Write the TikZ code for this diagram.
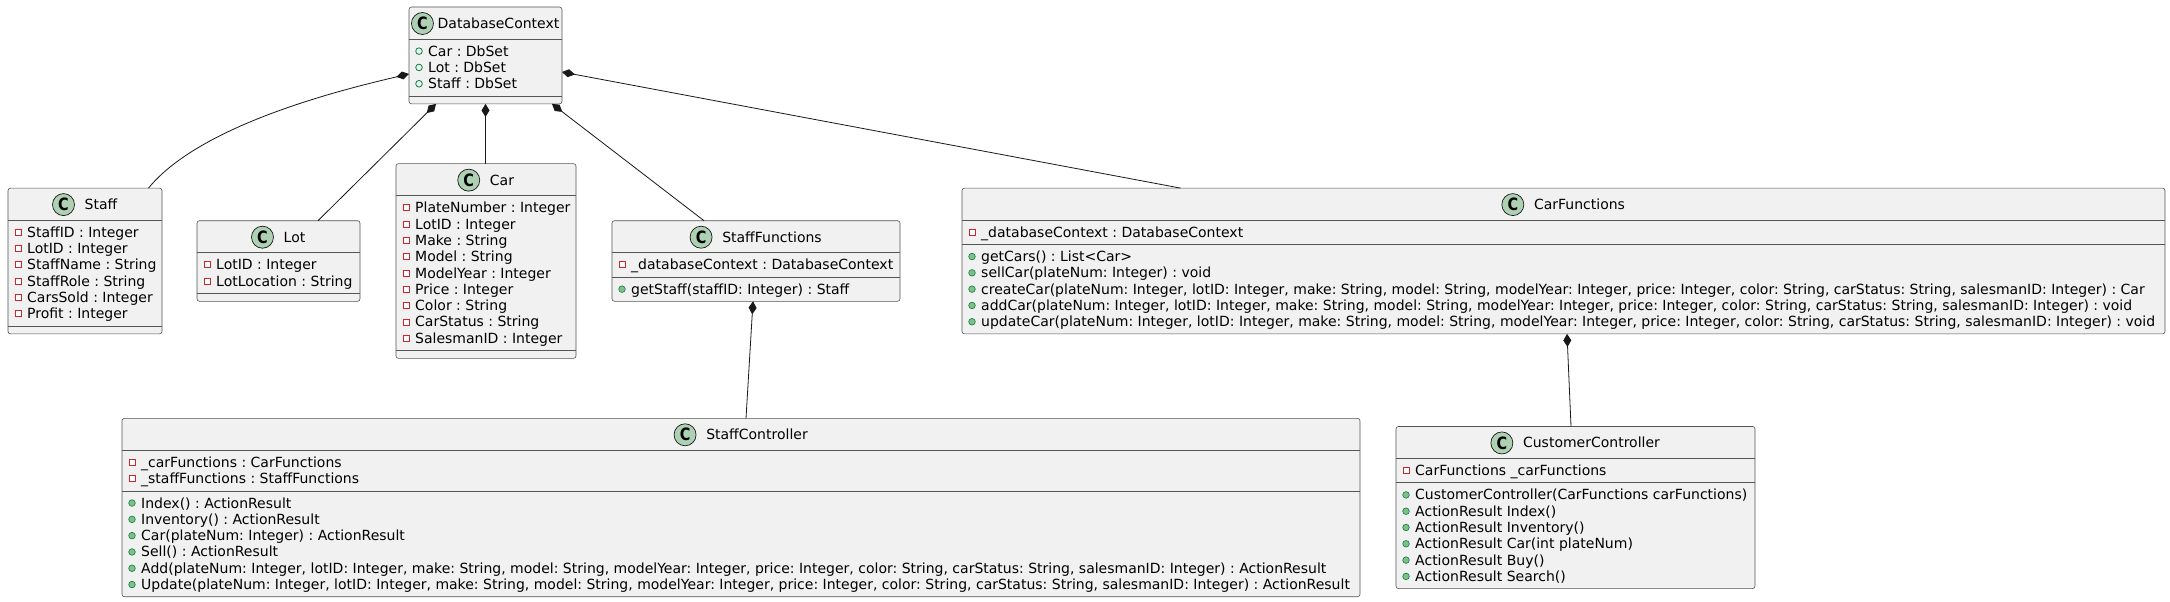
\documentclass[tikz,border=0pt]{standalone}
\usepackage{fontspec}
\setmainfont{DejaVu Sans}
\usepackage{graphicx}
\usetikzlibrary{arrows.meta,calc}
\frenchspacing
\definecolor{boxfill}{HTML}{F1F1F1}
\definecolor{umlline}{HTML}{181818}
\definecolor{boxline}{HTML}{555555}
\definecolor{spotfill}{HTML}{ADD1B2}
\definecolor{umlred}{HTML}{C82930}
\definecolor{umlgreenD}{HTML}{038048}
\definecolor{umlgreen}{HTML}{84BE84}
\tikzset{
  umlbox/.style={draw=boxline, fill=boxfill, line width=0.6pt, rounded corners=2.5pt, anchor=north west, inner sep=0pt, outer sep=0pt},
  sepline/.style={draw=boxline, line width=0.6pt},
  hdr/.style={font=\fontsize{14}{16.3}\selectfont\frenchspacing, inner sep=0pt, anchor=base, text=black},
  rowtxt/.style={font=\fontsize{14}{16.3}\selectfont\frenchspacing, inner sep=0pt, anchor=base west, text=black},
  spot/.style={draw=umlline, fill=spotfill, line width=0.7pt},
  spotletter/.style={font=\fontsize{17}{17}\selectfont\bfseries, inner sep=0pt, text=black},
  comp/.style={draw=umlline, line width=0.8pt, arrows={Diamond[length=13pt,width=8pt]-}},
  privfield/.pic={\draw[umlred, line width=0.8pt, fill=white] (-3,-3) rectangle (3,3);},
  pubmeth/.pic={\draw[draw=umlgreenD, fill=umlgreen, line width=0.6pt] (0,0) circle[radius=3.3pt];},
  pubfield/.pic={\draw[draw=umlgreenD, line width=0.8pt] (0,0) circle[radius=3.3pt];},
}
\newcommand\umlspot[1]{%
  \draw[spot] ([xshift=11pt,yshift=5pt]#1.base west) circle[radius=11pt];
  \node[spotletter] (#1C) at ([xshift=11pt,yshift=5pt]#1.base west) {\scalebox{0.85}[1]{C}};}
\newcommand\umlrows[5]{%
  \foreach \t [count=\i from 0] in {#5}{%
    \node[rowtxt] (#1\i) at (#2+19, #3+17.15+16.3*\i) {\t};
    \pic at (#2+10, #3+12.15+16.3*\i) {#4};
  }}
\newcommand\umlseps[3]{% box, hsep offset, asep offset (from top)
  \draw[sepline] ($(#1.north west)+(0,#2)$) -- ($(#1.north east)+(0,#2)$);
  \draw[sepline] ($(#1.north west)+(0,#3)$) -- ($(#1.north east)+(0,#3)$);}
\begin{document}
\begin{tikzpicture}[x=1pt,y=-1pt]
\useasboundingbox (0,0) rectangle (2170,602);
\fill[white] (0,0) rectangle (2170,602);

% boxes
\node[umlbox, minimum width=153pt, minimum height=96.9pt] (db) at (409,7) {};
\node[umlbox, minimum width=154pt, minimum height=145.8pt] (staff) at (8,188.1) {};
\node[umlbox, minimum width=163pt, minimum height=80.6pt] (lot) at (197,220.7) {};
\node[umlbox, minimum width=180pt, minimum height=194.7pt] (car) at (396,163.65) {};
\node[umlbox, minimum width=288pt, minimum height=80.6pt] (sf) at (612,220.7) {};
\node[umlbox, minimum width=1203pt, minimum height=145.8pt] (cf) at (962,188.1) {};
\node[umlbox, minimum width=1238pt, minimum height=178.4pt] (sc) at (122,418.3) {};
\node[umlbox, minimum width=359pt, minimum height=162.1pt] (cc) at (1396,426.45) {};

% separators
\umlseps{db}{32}{88.9}
\umlseps{staff}{32}{137.8}
\umlseps{lot}{32}{72.6}
\umlseps{car}{32}{186.7}
\umlseps{sf}{32}{56.3}
\umlseps{cf}{32}{56.3}
\umlseps{sc}{32}{72.6}
\umlseps{cc}{32}{56.3}

% headers
\node[hdr] (dbT) at (485.5,28.5) {\kern26pt DatabaseContext}; \umlspot{dbT}
\node[hdr] (staffT) at (85,209.6) {\kern32pt Staff}; \umlspot{staffT}
\node[hdr] (lotT) at (278.5,242.2) {\kern32pt Lot}; \umlspot{lotT}
\node[hdr] (carT) at (486,185.15) {\kern32pt Car}; \umlspot{carT}
\node[hdr] (sfT) at (756,242.2) {\kern32pt StaffFunctions}; \umlspot{sfT}
\node[hdr] (cfT) at (1563.5,209.6) {\kern32pt CarFunctions}; \umlspot{cfT}
\node[hdr] (scT) at (741,439.8) {\kern32pt StaffController}; \umlspot{scT}
\node[hdr] (ccT) at (1575.5,447.95) {\kern32pt CustomerController}; \umlspot{ccT}

% rows
\umlrows{dba}{409}{39}{pubfield}{{Car : DbSet},{Lot : DbSet},{Staff : DbSet}}
\umlrows{staffa}{8}{220.1}{privfield}{{StaffID : Integer},{LotID : Integer},{StaffName : String},{StaffRole : String},{CarsSold : Integer},{Profit : Integer}}
\umlrows{lota}{197}{252.7}{privfield}{{LotID : Integer},{LotLocation : String}}
\umlrows{cara}{396}{195.65}{privfield}{{PlateNumber : Integer},{LotID : Integer},{Make : String},{Model : String},{ModelYear : Integer},{Price : Integer},{Color : String},{CarStatus : String},{SalesmanID : Integer}}
\umlrows{sfa}{612}{252.7}{privfield}{{\_databaseContext : DatabaseContext}}
\umlrows{sfm}{612}{277}{pubmeth}{{getStaff(staffID: Integer) : Staff}}
\umlrows{cfa}{962}{220.1}{privfield}{{\_databaseContext : DatabaseContext}}
\umlrows{cfm}{962}{244.4}{pubmeth}{{getCars() : List<Car>},{sellCar(plateNum: Integer) : void},{createCar(plateNum: Integer, lotID: Integer, make: String, model: String, modelYear: Integer, price: Integer, color: String, carStatus: String, salesmanID: Integer) : Car},{addCar(plateNum: Integer, lotID: Integer, make: String, model: String, modelYear: Integer, price: Integer, color: String, carStatus: String, salesmanID: Integer) : void},{updateCar(plateNum: Integer, lotID: Integer, make: String, model: String, modelYear: Integer, price: Integer, color: String, carStatus: String, salesmanID: Integer) : void}}
\umlrows{sca}{122}{450.3}{privfield}{{\_carFunctions : CarFunctions},{\_staffFunctions : StaffFunctions}}
\umlrows{scm}{122}{490.9}{pubmeth}{{Index() : ActionResult},{Inventory() : ActionResult},{Car(plateNum: Integer) : ActionResult},{Sell() : ActionResult},{Add(plateNum: Integer, lotID: Integer, make: String, model: String, modelYear: Integer, price: Integer, color: String, carStatus: String, salesmanID: Integer) : ActionResult},{Update(plateNum: Integer, lotID: Integer, make: String, model: String, modelYear: Integer, price: Integer, color: String, carStatus: String, salesmanID: Integer) : ActionResult}}
\umlrows{cca}{1396}{458.45}{privfield}{{CarFunctions \_carFunctions}}
\umlrows{ccm}{1396}{482.75}{pubmeth}{{CustomerController(CarFunctions carFunctions)},{ActionResult Index()},{ActionResult Inventory()},{ActionResult Car(int plateNum)},{ActionResult Buy()},{ActionResult Search()}}

% connectors (composition)
\draw[comp] ($(db.north west)+(0,67)$) .. controls (340,90) and (200,125) .. ($(staff.north west)+(140.5,0)$);
\draw[comp] ($(db.south west)+(27,0)$) -- ($(lot.north west)+(121,0)$);
\draw[comp] (db.south) -- (db.south |- car.north);
\draw[comp] ($(db.south east)+(-10,0)$) -- ($(sf.north west)+(92,0)$);
\draw[comp] ($(db.north east)+(0,65)$) -- ($(cf.north west)+(218.5,0)$);
\draw[comp] ($(sf.south west)+(141,0)$) -- ($(sc.north west)+(624,0)$);
\draw[comp] ($(cf.south west)+(605,0)$) -- ($(cc.north west)+(175,0)$);
\end{tikzpicture}
\end{document}
